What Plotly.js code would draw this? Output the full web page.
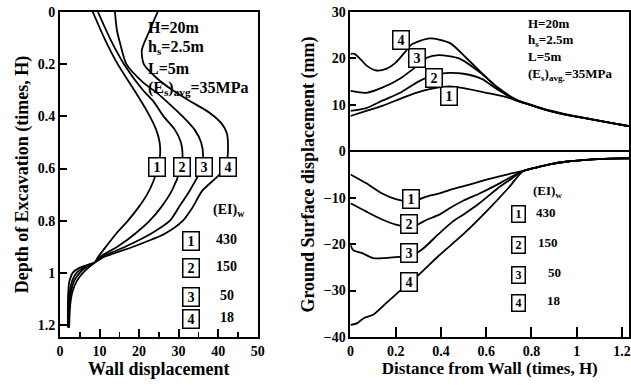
<!DOCTYPE html>
<html><head><meta charset="utf-8">
<script src="https://cdn.plot.ly/plotly-3.0.1.min.js"></script>
<style>html,body{margin:0;padding:0;background:#fff}#chart{width:631px;height:385px}</style>
</head><body><div id="chart"></div>
<script>
// ---- Left panel: wall displacement vs depth (times H) ----
const w1Depth = [0, 0.1, 0.2, 0.3, 0.38, 0.45, 0.5, 0.55, 0.6, 0.65, 0.7, 0.75, 0.8, 0.85, 0.9, 0.94, 0.96, 0.98, 1.0, 1.03, 1.07, 1.12, 1.21];
const w1Disp  = [8.3, 11.2, 14.6, 18.8, 22.0, 24.3, 25.2, 25.3, 24.6, 23.6, 22.0, 19.8, 17.2, 14.2, 11.6, 9.6, 8.8, 7.2, 5.8, 4.3, 3.2, 2.6, 2.3];
const w2Depth = [0, 0.1, 0.2, 0.3, 0.34, 0.4, 0.45, 0.5, 0.55, 0.6, 0.685, 0.75, 0.8, 0.85, 0.9, 0.94, 0.96, 0.98, 1.0, 1.03, 1.07, 1.12, 1.21];
const w2Disp  = [9.6, 12.6, 16.2, 21.0, 23.5, 26.2, 29.0, 30.6, 31.0, 30.5, 28.3, 25.5, 22.7, 19.0, 14.5, 10.0, 8.8, 6.5, 5.0, 3.6, 2.8, 2.4, 2.2];
const w3Depth = [0, 0.07, 0.12, 0.2, 0.27, 0.31, 0.35, 0.4, 0.45, 0.5, 0.55, 0.6, 0.685, 0.75, 0.8, 0.85, 0.9, 0.94, 0.96, 0.98, 1.0, 1.03, 1.07, 1.12, 1.21];
const w3Disp  = [13.9, 14.4, 15.2, 16.8, 21.0, 24.5, 27.5, 31.0, 34.0, 35.7, 36.2, 35.8, 32.8, 30.0, 27.8, 23.0, 16.5, 10.5, 8.8, 6.0, 4.2, 3.1, 2.5, 2.2, 2.1];
const w4Depth = [0, 0.07, 0.146, 0.2, 0.254, 0.3, 0.338, 0.388, 0.43, 0.465, 0.52, 0.57, 0.62, 0.685, 0.75, 0.8, 0.85, 0.9, 0.94, 0.96, 0.98, 1.0, 1.03, 1.07, 1.12, 1.21];
const w4Disp  = [24.7, 22.7, 20.7, 21.2, 24.5, 28.5, 32.5, 38.0, 41.0, 42.2, 42.5, 42.2, 40.5, 36.0, 33.5, 31.1, 26.5, 18.5, 11.0, 8.8, 5.0, 3.2, 2.4, 2.1, 2.0, 2.0];

// ---- Right panel: ground surface displacement (mm) vs distance (times H) ----
const u1Dist = [0, 0.07, 0.14, 0.22, 0.29, 0.36, 0.44, 0.5, 0.6, 0.7, 0.733, 0.8, 0.88, 0.96, 1.055, 1.15, 1.232];
const u1Val  = [7.6, 8.7, 9.8, 11.3, 12.6, 13.5, 14.0, 13.6, 12.6, 11.5, 10.9, 9.9, 8.7, 7.8, 7.0, 6.1, 5.4];
const u2Dist = [0, 0.07, 0.14, 0.22, 0.3, 0.38, 0.44, 0.5, 0.58, 0.65, 0.733, 0.8, 0.88, 0.96, 1.055, 1.15, 1.232];
const u2Val  = [8.7, 9.3, 10.9, 12.6, 15.0, 16.6, 16.9, 16.7, 15.6, 13.3, 11.0, 9.9, 8.7, 7.8, 7.0, 6.1, 5.4];
const u3Dist = [0, 0.07, 0.14, 0.22, 0.3, 0.34, 0.39, 0.48, 0.58, 0.65, 0.733, 0.8, 0.88, 0.96, 1.055, 1.15, 1.232];
const u3Val  = [13.0, 12.6, 13.7, 15.7, 18.6, 20.2, 20.7, 20.0, 16.7, 13.8, 11.1, 9.9, 8.7, 7.8, 7.0, 6.1, 5.4];
const u4Dist = [0, 0.018, 0.045, 0.07, 0.115, 0.16, 0.2, 0.24, 0.27, 0.35, 0.44, 0.51, 0.6, 0.67, 0.74, 0.8, 0.88, 0.96, 1.055, 1.15, 1.232];
const u4Val  = [21.0, 21.0, 19.8, 18.5, 17.4, 17.8, 19.1, 21.3, 23.0, 24.3, 23.3, 20.2, 15.9, 12.8, 11.0, 10.0, 8.8, 7.9, 7.0, 6.1, 5.4];

const l1Dist = [0, 0.07, 0.14, 0.2, 0.27, 0.34, 0.39, 0.44, 0.5, 0.56, 0.61, 0.7, 0.76, 0.82, 0.88, 0.96, 1.055, 1.15, 1.232];
const l1Val  = [-5.0, -6.9, -9.1, -10.3, -10.8, -9.7, -9.1, -8.3, -7.5, -6.7, -6.0, -4.9, -4.3, -3.5, -2.8, -2.2, -1.8, -1.6, -1.5];
const l2Dist = [0, 0.07, 0.14, 0.2, 0.27, 0.34, 0.39, 0.44, 0.5, 0.57, 0.64, 0.7, 0.76, 0.82, 0.88, 0.96, 1.055, 1.15, 1.232];
const l2Val  = [-11.2, -13.0, -14.7, -15.8, -16.3, -14.7, -13.7, -12.2, -10.6, -9.1, -7.4, -5.8, -4.3, -3.5, -2.8, -2.2, -1.8, -1.6, -1.5];
const l3Dist = [0, 0.012, 0.05, 0.1, 0.15, 0.2, 0.27, 0.32, 0.39, 0.45, 0.5, 0.57, 0.65, 0.7, 0.76, 0.82, 0.88, 0.96, 1.055, 1.15, 1.232];
const l3Val  = [-20.2, -21.3, -21.9, -23.0, -23.0, -22.8, -22.5, -21.0, -17.8, -15.2, -13.6, -11.2, -8.0, -6.3, -4.3, -3.5, -2.8, -2.2, -1.8, -1.6, -1.5];
const l4Dist = [0, 0.03, 0.06, 0.1, 0.16, 0.22, 0.3, 0.39, 0.5, 0.6, 0.7, 0.76, 0.82, 0.88, 0.96, 1.055, 1.15, 1.232];
const l4Val  = [-37.4, -37.0, -35.9, -35.2, -32.6, -30.0, -26.7, -22.5, -17.8, -13.0, -7.8, -4.4, -3.5, -2.8, -2.2, -1.8, -1.6, -1.5];

const ratingLabels = ['1', '2', '3', '4'];
const eiValues = ['430', '150', '50', '18'];

const lineStyle = {color: 'black', width: 1.8, shape: 'spline', smoothing: 0.7};
function wallTrace(x, y) { return {x: x, y: y, xaxis: 'x', yaxis: 'y', mode: 'lines', line: lineStyle, hoverinfo: 'skip'}; }
function groundTrace(x, y) { return {x: x, y: y, xaxis: 'x2', yaxis: 'y2', mode: 'lines', line: lineStyle, hoverinfo: 'skip'}; }

const traces = [
  wallTrace(w1Disp, w1Depth), wallTrace(w2Disp, w2Depth), wallTrace(w3Disp, w3Depth), wallTrace(w4Disp, w4Depth),
  groundTrace(u1Dist, u1Val), groundTrace(u2Dist, u2Val), groundTrace(u3Dist, u3Val), groundTrace(u4Dist, u4Val),
  groundTrace(l1Dist, l1Val), groundTrace(l2Dist, l2Val), groundTrace(l3Dist, l3Val), groundTrace(l4Dist, l4Val)
];

const FONT = 'Liberation Serif, Times New Roman, serif';
function boxLabel(xr, yr, x, y, t, big) {
  return {xref: xr, yref: yr, x: x, y: y, text: '<b>' + t + '</b>', showarrow: false,
    bordercolor: 'black', borderwidth: 1.5, bgcolor: 'white', borderpad: 1,
    width: big ? 13 : 10, height: big ? 15 : 13, font: {family: FONT, size: big ? 14 : 12, color: 'black'}};
}
function txt(xr, yr, x, y, t, size, anchor) {
  return {xref: xr, yref: yr, x: x, y: y, text: '<b>' + t + '</b>', showarrow: false,
    xanchor: anchor || 'left', yanchor: 'middle', font: {family: FONT, size: size, color: 'black'}};
}

const annotations = [];
// left curve labels
const leftBoxX = [24.5, 30.8, 36.4, 42.4];
ratingLabels.forEach((t, i) => annotations.push(boxLabel('x', 'y', leftBoxX[i], 0.596, t, true)));
// left legend
annotations.push(txt('x', 'y', 42.7, 0.762, '(EI)<sub>w</sub>', 14, 'center'));
const leftLegY = [0.877, 0.981, 1.092, 1.177];
ratingLabels.forEach((t, i) => {
  annotations.push(boxLabel('x', 'y', 33.1, leftLegY[i], t, true));
  annotations.push(txt('x', 'y', 42.2, leftLegY[i] - 0.005, eiValues[i], 14, 'center'));
});
// left parameter text
annotations.push(txt('x', 'y', 21.8, 0.058, 'H=20m', 16));
annotations.push(txt('x', 'y', 21.8, 0.135, 'h<sub>s</sub>=2.5m', 16));
annotations.push(txt('x', 'y', 21.8, 0.215, 'L=5m', 16));
annotations.push(txt('x', 'y', 21.8, 0.292, '(E<sub>s</sub>)<sub>avg</sub>=35MPa', 16));

// right curve labels
const upBoxX = [0.437, 0.371, 0.296, 0.225], upBoxY = [12.0, 15.7, 20.0, 23.9];
const loBoxX = [0.269, 0.26, 0.26, 0.26], loBoxY = [-10.3, -15.7, -21.8, -28.1];
ratingLabels.forEach((t, i) => {
  annotations.push(boxLabel('x2', 'y2', upBoxX[i], upBoxY[i], t, true));
  annotations.push(boxLabel('x2', 'y2', loBoxX[i], loBoxY[i], t, true));
});
// right legend
annotations.push(txt('x2', 'y2', 0.873, -8.6, '(EI)<sub>w</sub>', 13, 'center'));
const rightLegY = [-13.6, -20.1, -26.6, -32.6];
const rightValX = [0.865, 0.873, 0.9, 0.9];
ratingLabels.forEach((t, i) => {
  annotations.push(boxLabel('x2', 'y2', 0.742, rightLegY[i], t, false));
  annotations.push(txt('x2', 'y2', rightValX[i], rightLegY[i] + 0.5, eiValues[i], 13, 'center'));
});
// right parameter text
annotations.push(txt('x2', 'y2', 0.776, 27.6, 'H=20m', 13));
annotations.push(txt('x2', 'y2', 0.776, 23.9, 'h<sub>s</sub>=2.5m', 13));
annotations.push(txt('x2', 'y2', 0.776, 20.4, 'L=5m', 13));
annotations.push(txt('x2', 'y2', 0.776, 16.6, '(E<sub>s</sub>)<sub>avg.</sub>=35MPa', 13));

const axisCommon = {showline: true, mirror: true, linewidth: 2, linecolor: 'black', showgrid: false,
  ticks: 'inside', tickwidth: 2, tickcolor: 'black', tickfont: {family: FONT, size: 14, color: 'black', weight: 'bold'}};

const layout = {
  width: 631, height: 385,
  margin: {l: 60, r: 2, t: 12, b: 48},
  paper_bgcolor: 'white', plot_bgcolor: 'white',
  showlegend: false,
  font: {family: FONT, color: 'black', size: 14},
  xaxis: Object.assign({}, axisCommon, {domain: [0, 0.3474], range: [0, 50], tickvals: [0, 10, 20, 30, 40, 50],
    ticklen: 8, zeroline: false, anchor: 'y',
    minor: {ticks: 'inside', tickvals: [5, 15, 25, 35, 45], ticklen: 5, tickwidth: 1.5, tickcolor: 'black', showgrid: false},
    title: {text: '<b>Wall displacement</b>', font: {family: FONT, size: 18, color: 'black'}, standoff: 2}}),
  yaxis: Object.assign({}, axisCommon, {domain: [0, 1], range: [1.246, 0], tickvals: [0, 0.2, 0.4, 0.6, 0.8, 1, 1.2],
    ticklen: 7, zeroline: false, anchor: 'x',
    title: {text: '<b>Depth of Excavation (times, H)</b>', font: {family: FONT, size: 18, color: 'black'}, standoff: 4}}),
  xaxis2: Object.assign({}, axisCommon, {domain: [0.5105, 1], range: [0, 1.231], tickvals: [0, 0.2, 0.4, 0.6, 0.8, 1, 1.2],
    ticklen: 10, zeroline: false, anchor: 'y2',
    title: {text: '<b>Distance from Wall (times, H)</b>', font: {family: FONT, size: 17, color: 'black'}, standoff: 2}}),
  yaxis2: Object.assign({}, axisCommon, {domain: [0, 1], range: [-40, 30], tickvals: [-40, -30, -20, -10, 0, 10, 20, 30],
    ticklen: 6, zeroline: true, zerolinecolor: 'black', zerolinewidth: 2, anchor: 'x2',
    title: {text: '<b>Ground Surface displacement (mm)</b>', font: {family: FONT, size: 18, color: 'black'}, standoff: 4}}),
  annotations: annotations
};

Plotly.newPlot('chart', traces, layout, {displayModeBar: false, staticPlot: true});
</script>
</body></html>
